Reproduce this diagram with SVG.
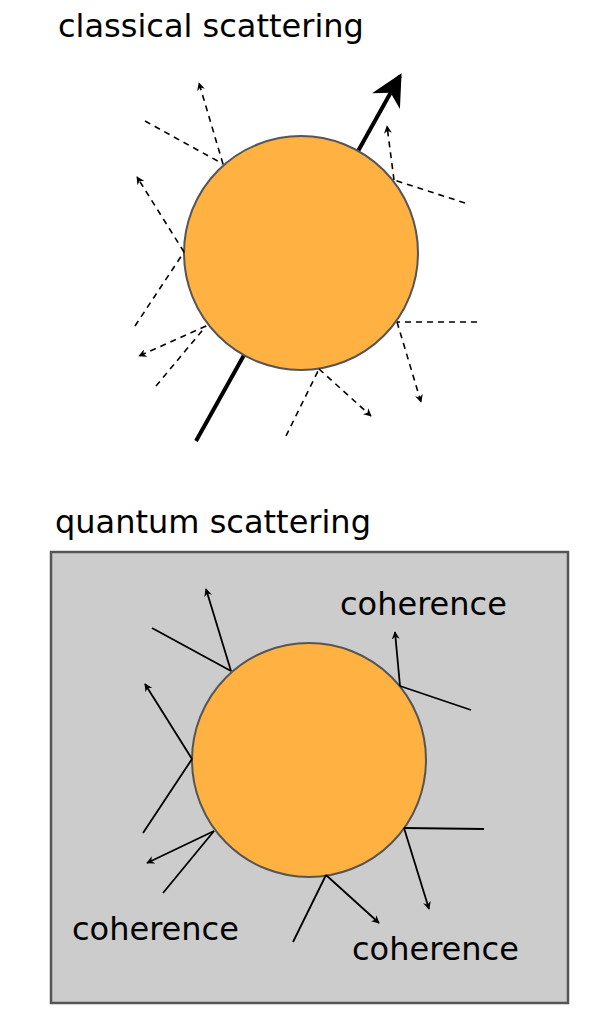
<svg xmlns="http://www.w3.org/2000/svg" width="611" height="1024" viewBox="0 0 611 1024">
<style>
text{font-family:"DejaVu Sans",sans-serif;font-size:32px;fill:#000}
.ball{fill:#ffb142;stroke:#555;stroke-width:2}
.d{stroke:#000;stroke-width:1.6;stroke-dasharray:6,5;fill:none}
.s{stroke:#000;stroke-width:1.8;fill:none}
</style>
<defs>
<marker id="a" viewBox="0 0 10 10" refX="9" refY="5" markerWidth="8" markerHeight="8" markerUnits="userSpaceOnUse" orient="auto"><path d="M0,0 L10,5 L0,10 L3,5z" fill="#000"/></marker>
<marker id="ab" viewBox="0 0 10 10" refX="9" refY="5" markerWidth="8" markerHeight="8" orient="auto"><path d="M0,0 L10,5 L0,10 L3,5z" fill="#000"/></marker>
</defs>
<text x="58" y="37">classical scattering</text>
<g id="bigArrow"><line x1="196" y1="441" x2="400" y2="76" stroke="#000" stroke-width="4" marker-end="url(#ab)"/></g>
<g id="ball1"><circle class="ball" cx="301" cy="253" r="117"/></g>
<g id="connectors1">
<path class="d" d="M145,121 L223,164"/><path class="d" d="M223,164 L199,83" marker-end="url(#a)"/>
<path class="d" d="M465,203 L394,180"/><path class="d" d="M394,180 L387,126" marker-end="url(#a)"/>
<path class="d" d="M135,326 L184,252"/><path class="d" d="M184,252 L137,177" marker-end="url(#a)"/>
<path class="d" d="M156,386 L206,326"/><path class="d" d="M206,326 L139,356" marker-end="url(#a)"/>
<path class="d" d="M477,322 L397,322"/><path class="d" d="M397,322 L421,402" marker-end="url(#a)"/>
<path class="d" d="M286,436 L319,369"/><path class="d" d="M319,369 L371,416" marker-end="url(#a)"/>
</g>
<text x="55" y="533">quantum scattering</text>
<g id="box"><rect x="51" y="552" width="517" height="451" fill="#cccccc" stroke="#555" stroke-width="2.5"/></g>
<g id="ball2"><circle class="ball" cx="309" cy="760" r="117"/></g>
<g id="connectors2">
<path class="s" d="M152,628 L231,671"/><path class="s" d="M231,671 L206,589" marker-end="url(#a)"/>
<path class="s" d="M471,710 L400,686"/><path class="s" d="M400,686 L395,632" marker-end="url(#a)"/>
<path class="s" d="M143,833 L192,759"/><path class="s" d="M192,759 L145,684" marker-end="url(#a)"/>
<path class="s" d="M163,893 L214,831"/><path class="s" d="M214,831 L147,863" marker-end="url(#a)"/>
<path class="s" d="M484,829 L404,828"/><path class="s" d="M404,828 L429,909" marker-end="url(#a)"/>
<path class="s" d="M293,942 L326,875"/><path class="s" d="M326,875 L379,923" marker-end="url(#a)"/>
</g>
<text x="340" y="615">coherence</text>
<text x="72" y="940">coherence</text>
<text x="352" y="960">coherence</text>
</svg>
